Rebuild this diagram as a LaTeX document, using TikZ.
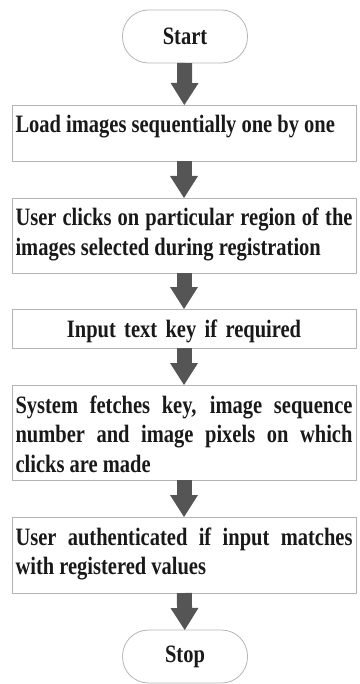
\documentclass[tikz,border=0pt]{standalone}
\usepackage{fontspec}
\newfontfamily\stepfont{Liberation Serif}[FakeStretch=0.82]
\usetikzlibrary{arrows.meta}
\definecolor{arrowgray}{RGB}{85,85,85}
\definecolor{linegray}{RGB}{180,180,180}
\definecolor{textblack}{RGB}{25,25,25}
\begin{document}
\begin{tikzpicture}[x=1pt,y=-1pt,inner sep=0pt,outer sep=0pt,
stepbox/.style={draw=linegray,line width=0.8pt,rectangle,anchor=north,text width=337pt,align=justify,inner xsep=3.5pt,inner ysep=7pt,text height=21pt,text=textblack,font=\stepfont\bfseries\fontsize{25}{29.5}\selectfont},
termbox/.style={draw=linegray,line width=0.8pt,rectangle,rounded corners=26pt,anchor=north,minimum width=125pt,minimum height=53pt,text=textblack,font=\stepfont\bfseries\fontsize{25}{29.5}\selectfont},
blockarrow/.style={draw=arrowgray,line width=15pt,-{Triangle[line width=0pt,length=22pt,width=28pt]}}]
\useasboundingbox (0,0) rectangle (359,684);
\draw (185,10) node[termbox] (start) {Start};
\draw (184,105) node[stepbox,text depth=21pt] (load) {Load images sequentially one by one};
\draw (184,198) node[stepbox,text depth=40pt] (click) {User clicks on particular region of the\linebreak images selected during registration};
\draw (184,309) node[stepbox,text depth=4pt,align=center] (key) {Input text key if required};
\draw (184,385) node[stepbox,text depth=60pt] (fetch) {System fetches key, image sequence\linebreak number and image pixels on which\linebreak clicks are made};
\draw (184,517) node[stepbox,text depth=41pt] (auth) {User authenticated if input matches\linebreak with registered values};
\draw (185,630) node[termbox] (stop) {Stop};
\draw[blockarrow] (start) -- (load);
\draw[blockarrow] (load) -- (click);
\draw[blockarrow] (click) -- (key);
\draw[blockarrow] (key) -- (fetch);
\draw[blockarrow] (fetch) -- (auth);
\draw[blockarrow] (auth) -- (stop);
\end{tikzpicture}
\end{document}
